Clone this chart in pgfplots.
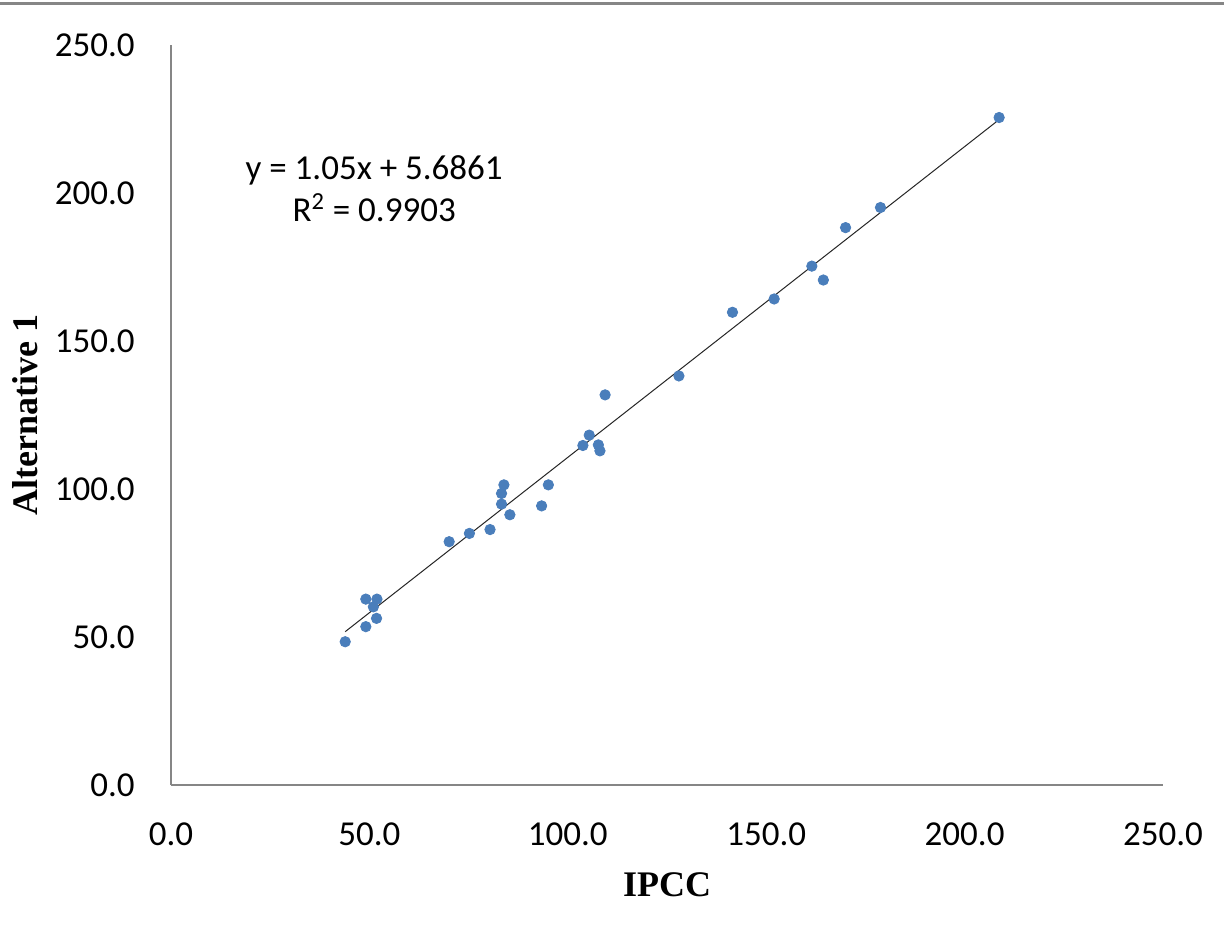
\documentclass[border=0pt]{standalone}
\usepackage{pgfplots}
\pgfplotsset{compat=1.18}
\usepackage{fontspec}
\setmainfont{Carlito}
\newfontfamily\timesfont{Liberation Serif}
\definecolor{ptblue}{HTML}{4A7EBB}
\definecolor{axgray}{HTML}{868686}
\begin{document}
\begin{tikzpicture}
\useasboundingbox (-85.5pt,-79.5pt) rectangle (526.5pt,392.5pt);
\fill[white] (-85.5pt,-79.5pt) rectangle (526.5pt,392.5pt);
\draw[color=axgray, line width=1.6pt] (-85.5pt,390.7pt) -- (526.5pt,390.7pt);
\begin{axis}[
  at={(0,0)}, anchor=south west,
  scale only axis, width=496pt, height=370pt,
  xmin=0, xmax=250, ymin=0, ymax=250,
  xtick={0,50,...,250}, ytick={0,50,...,250},
  axis lines*=left,
  axis line style={color=axgray, line width=0.8pt},
  major tick length=0pt,
  tick style={draw=none},
  /pgf/number format/.cd, fixed, fixed zerofill, precision=1, assume math mode=true,
  /pgfplots/.cd,
  ticklabel style={font=\fontsize{17.5}{21}\selectfont, inner sep=0pt},
  yticklabel style={anchor=east, xshift=-18pt},
  xticklabel style={anchor=north, yshift=-18.5pt},
  xlabel={IPCC}, ylabel={Alternative 1},
  xlabel style={font=\timesfont\bfseries\fontsize{18}{21}\selectfont, at={(axis description cs:0.5,-0.135)}, anchor=center},
  ylabel style={font=\timesfont\bfseries\fontsize{18}{21}\selectfont, at={(axis description cs:-0.147,0.50)}, anchor=center, rotate=0},
  clip=false,
]
\addplot[only marks, mark=*, mark size=2.6pt, color=ptblue, mark options={fill=ptblue, draw=ptblue}] coordinates {
(49.1,62.8) (51.9,62.8) (51.0,60.2) (51.8,56.3) (49.1,53.5) (43.9,48.4)
(70.1,82.2) (75.2,85.0) (80.4,86.3) (83.9,101.4) (83.3,98.5) (83.3,94.9)
(85.4,91.3) (93.4,94.3) (95.1,101.4) (103.8,114.7) (105.4,118.2) (107.7,114.9)
(108.1,112.9) (109.4,131.8) (128.0,138.2) (141.5,159.7) (152.0,164.2)
(161.5,175.3) (164.4,170.6) (170.0,188.3) (178.8,195.1) (208.7,225.5)
};
\addplot[color=black!85, line width=0.5pt] coordinates {(43.9,51.8) (208.7,224.8)};
\node[align=center, font=\fontsize{17.5}{21}\selectfont, inner sep=0pt] at (axis cs:51.2,201.4) {y = 1.05x + 5.6861\\[0pt]R\textsuperscript{2} = 0.9903};
\end{axis}
\end{tikzpicture}
\end{document}
